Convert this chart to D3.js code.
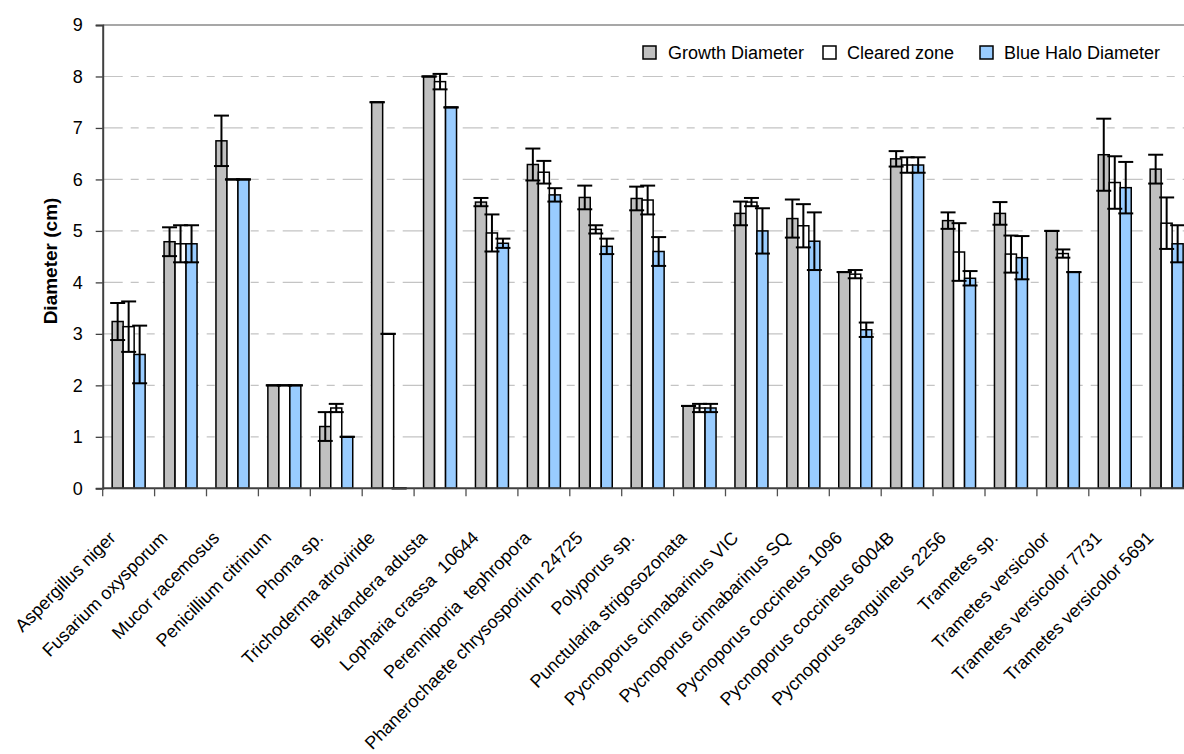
<!DOCTYPE html>
<html>
<head>
<meta charset="utf-8">
<script src="https://cdn.jsdelivr.net/npm/d3@7"></script>
<style>
  html, body { margin: 0; padding: 0; background: #fff; }
  svg { display: block; font-family: Arial, "Liberation Sans", sans-serif; }
</style>
</head>
<body>
<svg id="chart" width="1184" height="754"></svg>
<script>
// Fungal strains (x categories)
const categories = [
  "Aspergillus niger", "Fusarium oxysporum", "Mucor racemosus", "Penicillium citrinum",
  "Phoma sp.", "Trichoderma atroviride", "Bjerkandera adusta", "Lopharia crassa  10644",
  "Perenniporia  tephropora", "Phanerochaete chrysosporium 24725", "Polyporus sp.",
  "Punctularia strigosozonata", "Pycnoporus cinnabarinus VIC", "Pycnoporus cinnabarinus SQ",
  "Pycnoporus coccineus 1096", "Pycnoporus coccineus 6004B", "Pycnoporus sanguineus 2256",
  "Trametes sp.", "Trametes versicolor", "Trametes versicolor 7731", "Trametes versicolor 5691"
];

const seriesNames = ["Growth Diameter", "Cleared zone", "Blue Halo Diameter"];

// Mean diameters (cm) and their error values
const growth     = [3.24, 4.79, 6.75, 2.0, 1.2, 7.5, 8.0, 5.56, 6.29, 5.65, 5.63, 1.6, 5.34, 5.24, 4.2, 6.4, 5.2, 5.34, 5.0, 6.48, 6.2];
const growthErr  = [0.36, 0.28, 0.49, 0, 0.28, 0, 0, 0.08, 0.31, 0.23, 0.23, 0, 0.23, 0.37, 0, 0.15, 0.16, 0.22, 0, 0.70, 0.28];
const cleared    = [3.14, 4.75, 6.0, 2.0, 1.56, 3.0, 7.9, 4.96, 6.14, 5.03, 5.6, 1.56, 5.56, 5.1, 4.16, 6.28, 4.59, 4.55, 4.56, 5.94, 5.15];
const clearedErr = [0.49, 0.36, 0, 0, 0.08, 0, 0.15, 0.36, 0.22, 0.08, 0.28, 0.08, 0.08, 0.42, 0.08, 0.15, 0.56, 0.36, 0.08, 0.51, 0.5];
const halo       = [2.6, 4.75, 6.0, 2.0, 1.0, 0, 7.4, 4.76, 5.7, 4.7, 4.6, 1.56, 5.0, 4.8, 3.08, 6.28, 4.08, 4.48, 4.2, 5.84, 4.75];
const haloErr    = [0.56, 0.36, 0, 0, 0, 0, 0, 0.09, 0.13, 0.15, 0.28, 0.08, 0.44, 0.56, 0.14, 0.15, 0.14, 0.42, 0, 0.5, 0.36];

const yTicks = [0, 1, 2, 3, 4, 5, 6, 7, 8, 9];

const fills = ["#c0c0c0", "#ffffff", "#99ccff"];

const values = [growth, cleared, halo];
const errors = [growthErr, clearedErr, haloErr];

const rows = [];
categories.forEach((c, i) => {
  seriesNames.forEach((s, k) => {
    rows.push({ cat: c, series: s, k, value: values[k][i], err: errors[k][i] });
  });
});

const svg = d3.select("#chart");
const plot = { left: 102.7, right: 1192.6, top: 25, bottom: 488.3 };

const x0 = d3.scaleBand().domain(categories).range([plot.left, plot.right]).padding(0);
const x1 = d3.scaleBand().domain(seriesNames).range([0, x0.bandwidth()])
  .paddingInner(0).paddingOuter(0.86);
const y = d3.scaleLinear().domain([0, 9]).range([plot.bottom, plot.top]);

// Dashed horizontal gridlines
svg.append("g")
  .selectAll("line")
  .data(yTicks.filter(t => t > 0 && t < 9))
  .join("line")
  .attr("x1", plot.left).attr("x2", plot.right)
  .attr("y1", d => y(d)).attr("y2", d => y(d))
  .attr("stroke", "#c4c4c4")
  .attr("stroke-width", 1.2)
  .attr("stroke-dasharray", "20,8,8,8,8,8");

// Plot area top border
svg.append("line")
  .attr("x1", plot.left).attr("x2", plot.right)
  .attr("y1", y(9)).attr("y2", y(9))
  .attr("stroke", "#8a8a8a").attr("stroke-width", 1.5);

// Bars
const groups = svg.append("g").selectAll("g")
  .data(categories)
  .join("g")
  .attr("transform", d => `translate(${x0(d)},0)`);

groups.selectAll("rect")
  .data((d, i) => rows.filter(r => r.cat === d))
  .join("rect")
  .attr("x", d => x1(d.series))
  .attr("y", d => y(d.value))
  .attr("width", x1.bandwidth())
  .attr("height", d => y(0) - y(d.value))
  .attr("fill", d => fills[d.k])
  .attr("stroke", "#000")
  .attr("stroke-width", 1.5);

// Error bars
const capHalf = 7.5;
const eb = groups.selectAll("g.err")
  .data(d => rows.filter(r => r.cat === d))
  .join("g")
  .attr("class", "err")
  .attr("stroke", "#000")
  .attr("stroke-width", 2);

eb.append("line")
  .attr("x1", d => x1(d.series) + x1.bandwidth() / 2)
  .attr("x2", d => x1(d.series) + x1.bandwidth() / 2)
  .attr("y1", d => y(d.value + d.err))
  .attr("y2", d => y(Math.max(0, d.value - d.err)));
eb.append("line")
  .attr("x1", d => x1(d.series) + x1.bandwidth() / 2 - capHalf)
  .attr("x2", d => x1(d.series) + x1.bandwidth() / 2 + capHalf)
  .attr("y1", d => y(d.value + d.err))
  .attr("y2", d => y(d.value + d.err));
eb.append("line")
  .attr("x1", d => x1(d.series) + x1.bandwidth() / 2 - capHalf)
  .attr("x2", d => x1(d.series) + x1.bandwidth() / 2 + capHalf)
  .attr("y1", d => y(Math.max(0, d.value - d.err)))
  .attr("y2", d => y(Math.max(0, d.value - d.err)));

// Y axis
const yAxis = svg.append("g")
  .attr("transform", `translate(${plot.left},0)`)
  .call(d3.axisLeft(y).tickValues(yTicks).tickFormat(d3.format("d")).tickSize(7).tickPadding(13));
yAxis.select(".domain").attr("stroke", "#404040").attr("stroke-width", 2);
yAxis.selectAll(".tick line").attr("stroke", "#404040").attr("stroke-width", 1.3);
yAxis.selectAll(".tick text")
  .attr("font-size", 18).attr("fill", "#000")
  .attr("font-family", "Arial, 'Liberation Sans', sans-serif");

// X axis with ticks at category boundaries
const xAxisG = svg.append("g");
xAxisG.append("line")
  .attr("x1", plot.left).attr("x2", plot.right)
  .attr("y1", plot.bottom).attr("y2", plot.bottom)
  .attr("stroke", "#404040").attr("stroke-width", 2);
xAxisG.selectAll("line.tk")
  .data(categories)
  .join("line")
  .attr("class", "tk")
  .attr("x1", d => x0(d)).attr("x2", d => x0(d))
  .attr("y1", plot.bottom).attr("y2", plot.bottom + 8)
  .attr("stroke", "#505050").attr("stroke-width", 1.3);

xAxisG.selectAll("text")
  .data(categories)
  .join("text")
  .attr("transform", d => `translate(${x0(d) + x0.bandwidth() / 2 - 12},539) rotate(-45)`)
  .attr("text-anchor", "end")
  .attr("font-size", 18)
  .style("white-space", "pre")
  .attr("fill", "#000")
  .text(d => d);

// Y axis title
svg.append("text")
  .attr("transform", "translate(57,261) rotate(-90)")
  .attr("text-anchor", "middle")
  .attr("font-size", 19)
  .attr("font-weight", "bold")
  .text("Diameter (cm)");

// Legend
const legendItems = [
  { name: seriesNames[0], k: 0, box: 643, text: 668 },
  { name: seriesNames[1], k: 1, box: 823, text: 847 },
  { name: seriesNames[2], k: 2, box: 980, text: 1004 }
];
const lg = svg.append("g").selectAll("g").data(legendItems).join("g");
lg.append("rect")
  .attr("x", d => d.box).attr("y", 46)
  .attr("width", 13).attr("height", 13)
  .attr("fill", d => fills[d.k])
  .attr("stroke", "#000").attr("stroke-width", 1.5);
lg.append("text")
  .attr("x", d => d.text).attr("y", 58.5)
  .attr("font-size", 18)
  .text(d => d.name);
</script>
</body>
</html>
